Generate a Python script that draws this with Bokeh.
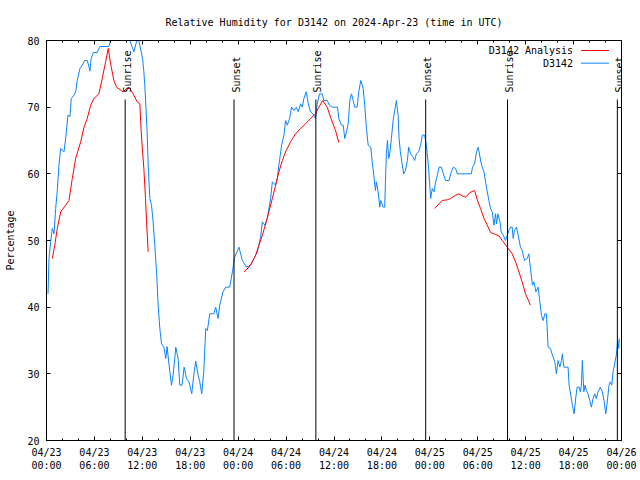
import math
from bokeh.plotting import figure
from bokeh.models import FixedTicker, Range1d, LinearAxis
from bokeh.embed import file_html
from bokeh.resources import INLINE
from bokeh.core.properties import value

FONT = "DejaVu Sans Mono"
NAN = float("nan")

# ---- data (hours since 2024-04-23 00:00 UTC) ----
obs_hours = [0.19, 0.31, 0.53, 0.73, 0.94, 1.15, 1.35, 1.56, 1.78, 2.19, 2.40, 2.69, 2.94, 3.10, 3.44,
             3.65, 3.85, 4.19, 4.48, 4.78, 5.10, 5.31, 5.44, 5.60, 5.85, 6.35, 6.69, 7.81, 8.03, 8.40,
             9.00, 9.60, 10.20, 10.44, 10.94, 11.20, 11.44, 11.69, 12.03, 12.19, 12.31, 12.44, 12.60,
             12.73, 12.94, 13.15, 13.35, 13.56, 13.78, 13.98, 14.19, 14.40, 14.69, 14.94, 15.10, 15.35,
             15.65, 15.85, 16.06, 16.19, 16.48, 16.69, 16.98, 17.23, 17.53, 17.85, 18.19, 18.44, 18.69,
             18.98, 19.19, 19.44, 19.69, 19.94, 20.15, 20.44, 20.94, 21.19, 21.48, 21.69, 22.10, 22.44,
             22.94, 23.28, 23.56, 23.85, 24.10, 24.53, 25.03, 25.56, 25.98, 26.40, 26.81, 27.03, 27.35,
             27.65, 28.06, 28.28, 28.69, 28.90, 29.10, 29.44, 29.73, 29.94, 30.15, 30.44, 30.69, 30.98,
             31.28, 31.53, 31.81, 32.03, 32.23, 32.53, 32.78, 33.06, 33.35, 33.69, 33.90, 34.19, 34.53,
             34.73, 35.15, 35.44, 35.78, 36.44, 36.60, 36.94, 37.15, 37.35, 37.56, 37.78, 37.98, 38.19,
             38.40, 38.60, 38.90, 39.10, 39.35, 39.65, 39.85, 40.06, 40.28, 40.60, 40.78, 40.98, 41.19,
             41.31, 41.53, 41.73, 41.85, 42.15, 42.35, 42.44, 42.56, 42.69, 42.85, 42.98, 43.19, 43.40,
             43.60, 43.81, 44.03, 44.15, 44.31, 44.53, 44.73, 44.94, 45.19, 45.35, 45.60, 45.90, 46.10,
             46.31, 46.60, 46.85, 47.06, 47.35, 47.56, 47.78, 47.98, 48.10, 48.31, 48.53, 48.73, 48.94,
             49.15, 49.44, 49.69, 49.98, 50.40, 50.69, 50.94, 51.23, 51.44, 52.48, 53.19, 53.35, 53.60,
             53.85, 54.06, 54.28, 54.48, 54.78, 54.98, 55.19, 55.40, 55.60, 55.81, 56.03, 56.23, 56.35,
             56.53, 56.78, 56.94, 57.19, 57.48, 57.69, 57.90, 58.10, 58.31, 58.44, 58.60, 58.85, 59.06,
             59.35, 59.56, 59.85, 60.19, 60.40, 60.60, 60.85, 61.03, 61.28, 61.56, 61.78, 61.98, 62.19,
             62.40, 62.60, 62.81, 63.10, 63.35, 63.65, 63.85, 64.06, 64.28, 64.48, 64.60, 64.78, 65.31,
             65.44, 65.65, 65.85, 66.06, 66.28, 66.44, 66.69, 66.85, 66.98, 67.10, 67.28, 67.44, 67.60,
             67.81, 68.03, 68.23, 68.44, 68.65, 68.85, 69.06, 69.35, 69.60, 69.81, 70.03, 70.19, 70.44,
             70.60, 70.78, 70.94, 71.19, 71.35, 71.53, 71.65, 71.72]
obs_rh = [42.0, 47.3, 49.9, 51.8, 51.0, 54.8, 57.5, 61.3, 63.8, 63.3, 65.3, 68.8, 68.6, 71.3, 71.8,
          72.3, 74.0, 75.8, 76.3, 77.0, 77.0, 76.1, 75.4, 77.3, 78.2, 78.2, 79.1, 79.1, 80.0, 81.5,
          82.0, 81.5, 80.8, 80.0, 78.3, 79.5, 80.5, 79.3, 77.3, 75.3, 73.3, 70.3, 66.3,
          61.3, 56.3, 55.3, 52.8, 49.3, 45.3, 40.3, 36.8, 34.5, 34.0, 32.3, 34.1, 31.3,
          28.3, 29.8, 32.3, 34.0, 32.3, 28.3, 28.3, 31.0, 29.3, 28.8, 27.0, 29.8, 31.9,
          29.8, 28.8, 27.0, 30.3, 36.8, 36.5, 39.0, 39.0, 40.0, 38.3, 40.3, 42.3, 43.0,
          43.0, 45.3, 47.5, 48.3, 49.0, 47.0, 46.0, 46.3, 47.3, 48.3, 50.5, 52.8, 52.3,
          53.3, 56.3, 58.8, 58.3, 59.3, 61.3, 64.3, 65.8, 68.0, 67.3, 68.3, 70.0, 69.5,
          70.0, 69.3, 70.5, 70.0, 71.3, 72.3, 70.5, 69.3, 69.0, 68.3, 70.5, 72.0, 72.0,
          71.0, 71.0, 70.3, 70.0, 70.0, 68.3, 67.3, 67.3, 65.3, 66.3, 67.5, 71.0, 72.0,
          71.0, 70.0, 70.0, 72.3, 74.0, 72.8, 70.3, 66.8, 64.3, 64.0, 61.8, 59.8, 57.5,
          58.8, 57.3, 55.0, 56.0, 55.0, 55.0, 58.8, 63.0, 65.0, 62.3, 63.0, 65.3, 68.0,
          69.5, 71.0, 68.8, 65.3, 63.3, 61.5, 60.0, 60.5, 62.0, 64.0, 63.0, 62.5, 62.0,
          63.0, 63.3, 64.3, 65.8, 65.8, 64.3, 61.8, 58.5, 56.3, 57.8, 57.3, 58.8, 59.8,
          61.0, 61.0, 60.0, 59.0, 59.0, 60.3, 61.0, 60.8, 60.0, 60.0, 60.0, 61.0, 61.5,
          63.3, 64.0, 62.5, 61.3, 60.3, 58.8, 57.3, 56.0, 54.8, 54.3, 52.3, 54.0, 52.5,
          54.0, 52.8, 51.3, 50.8, 50.0, 50.8, 51.5, 52.0, 52.0, 50.3, 51.5, 52.0, 50.8,
          49.0, 48.5, 47.0, 47.3, 48.0, 45.8, 43.3, 43.8, 42.3, 43.0, 40.8, 38.8, 38.0,
          39.0, 39.0, 34.0, 33.8, 32.8, 31.8, 30.0, 32.0, 31.0, 32.0, 33.0, 31.0, 31.0,
          28.3, 26.8, 25.3, 24.0, 26.5, 28.0, 28.0, 27.3, 28.3, 32.0, 27.3, 28.3, 27.5,
          27.0, 26.0, 25.0, 26.3, 27.0, 26.3, 27.3, 28.0, 27.3, 26.0, 24.0, 25.5, 28.3,
          28.8, 28.3, 30.3, 31.8, 32.8, 35.0, 33.8, 35.3]

ana_hours = [0.73, 1.03, 1.35, 1.78, 2.40, 2.81, 3.23, 3.65, 4.28, 4.69, 5.10, 5.53, 5.94, 6.56, 6.98,
             7.40, 7.73, 8.03, 8.44, 8.78, 9.35, 9.60, 10.03, 10.44, 10.85, 11.35, 11.69, 11.85, 12.03,
             12.19, 12.40, 12.53, 12.73, NAN,
             24.73, 25.35, 25.78, 26.19, 26.60, 27.03, 27.44, 27.85, 28.28, 28.69, 29.10, 29.53, 29.94,
             30.56, 31.19, 31.81, 32.44, 33.06, 33.69, 34.10, 34.60, 35.15, 35.56, 36.19, 36.60, NAN,
             48.60, 49.15, 49.56, 50.19, 50.60, 51.23, 51.65, 52.06, 52.48, 53.03, 53.60, 54.03, 54.35,
             54.78, 55.19, 55.60, 56.23, 56.65, 57.06, 57.69, 58.31, 58.73, 59.15, 59.56, 59.98, 60.60]
ana_rh = [47.3, 49.3, 51.8, 54.3, 55.3, 56.0, 59.3, 62.3, 64.8, 67.0, 68.3, 70.3, 71.3, 72.0, 74.3,
          76.8, 78.8, 76.5, 74.0, 73.0, 72.5, 72.3, 72.8, 72.8, 72.0, 70.8, 70.5, 66.5, 63.3,
          60.8, 56.3, 52.8, 48.3, NAN,
          45.3, 46.0, 46.8, 47.8, 49.3, 50.8, 52.5, 54.3, 56.3, 58.3, 60.3, 62.0, 63.3,
          64.8, 66.0, 66.8, 67.5, 68.3, 69.0, 70.0, 71.0, 70.0, 68.5, 66.5, 64.7, NAN,
          54.8, 55.5, 56.0, 56.1, 56.3, 56.8, 57.0, 56.7, 56.5, 57.2, 57.5, 55.8, 54.8,
          53.3, 52.3, 51.2, 50.9, 50.7, 50.0, 49.0, 48.0, 46.8, 45.3, 43.8, 42.0, 40.3]

sun_hours = [9.85, 23.48, 33.73, 47.48, 57.73, 71.48]
sun_labels = ["Sunrise", "Sunset", "Sunrise", "Sunset", "Sunrise", "Sunset"]
sun_line_top = 71.15

tick_hours = [0, 6, 12, 18, 24, 30, 36, 42, 48, 54, 60, 66, 72]
tick_labels = ["04/23\n00:00", "04/23\n06:00", "04/23\n12:00", "04/23\n18:00",
               "04/24\n00:00", "04/24\n06:00", "04/24\n12:00", "04/24\n18:00",
               "04/25\n00:00", "04/25\n06:00", "04/25\n12:00", "04/25\n18:00",
               "04/26\n00:00"]
minor_hours = list(range(0, 73, 2))
y_ticks = [20, 30, 40, 50, 60, 70, 80]

legend_names = ["D3142 Analysis", "D3142"]
legend_colors = ["#ff0000", "#0a84ff"]

# ---- figure ----
p = figure(width=640, height=480, x_range=Range1d(0, 72), y_range=Range1d(20, 80),
           output_backend="svg", toolbar_location=None,
           min_border_left=46, min_border_right=19, min_border_top=40, min_border_bottom=40,
           title="Relative Humidity for D3142 on 2024-Apr-23 (time in UTC)")
p.title.align = "center"
p.title.text_font = FONT
p.title.text_font_size = "10px"
p.title.text_font_style = "normal"
p.title.text_color = "black"
p.title.standoff = 26
p.grid.visible = False
p.outline_line_color = "black"
p.outline_line_alpha = 1.0
p.background_fill_color = "white"
p.border_fill_color = "white"

xt = FixedTicker(ticks=tick_hours, minor_ticks=minor_hours)
yt = FixedTicker(ticks=y_ticks, minor_ticks=[])

bx = p.xaxis[0]
bx.ticker = xt
bx.major_label_overrides = {h: lab for h, lab in zip(tick_hours, tick_labels)}
bx.major_label_text_line_height = 1.25
bx.major_label_standoff = 6
ly = p.yaxis[0]
ly.ticker = yt
ly.axis_label = "Percentage"
ly.axis_label_standoff = 8
ly.major_label_standoff = 7
ly.axis_label_text_font_style = "normal"

top_ax = LinearAxis(ticker=xt, major_label_overrides={h: "" for h in tick_hours + minor_hours},
                    major_label_standoff=0)
right_ax = LinearAxis(ticker=yt, major_label_overrides={v: "" for v in y_ticks},
                      major_label_standoff=0)
p.add_layout(top_ax, "above")
p.add_layout(right_ax, "right")

for ax in p.xaxis + p.yaxis:
    ax.major_tick_in = 4
    ax.major_tick_out = 0
    ax.minor_tick_in = 2
    ax.minor_tick_out = 0
    ax.axis_line_color = "black"
    ax.major_tick_line_color = "black"
    ax.minor_tick_line_color = "black"
    ax.major_label_text_font = FONT
    ax.axis_label_text_font = FONT
    ax.axis_label_text_font_size = "10px"
    ax.axis_label_text_color = "black"
    ax.major_label_text_font_size = "10px"
    ax.major_label_text_color = "black"

# data lines
p.line(obs_hours, obs_rh, line_color=legend_colors[1], line_width=1)
p.line(ana_hours, ana_rh, line_color=legend_colors[0], line_width=1)

# sunrise / sunset markers
p.segment(x0=sun_hours, y0=[20] * len(sun_hours), x1=sun_hours, y1=[sun_line_top] * len(sun_hours),
          line_color="black", line_width=1)
p.text(x=sun_hours, y=[sun_line_top] * len(sun_hours), text=sun_labels, angle=math.pi / 2,
       text_align="left", text_baseline="middle", x_offset=2, y_offset=-7,
       text_font=value(FONT), text_font_size="10px", text_color="black")

# legend (text left of sample line, top right)
leg_x_text = 65.94
leg_y = [78.5, 76.6]
p.text(x=[leg_x_text] * 2, y=leg_y, text=legend_names, text_align="right", text_baseline="middle",
       text_font=value(FONT), text_font_size="10px", text_color="black")
p.segment(x0=[66.94] * 2, y0=leg_y, x1=[70.44] * 2, y1=leg_y, line_color=legend_colors, line_width=1)

open("out.html", "w").write(file_html(p, INLINE))
